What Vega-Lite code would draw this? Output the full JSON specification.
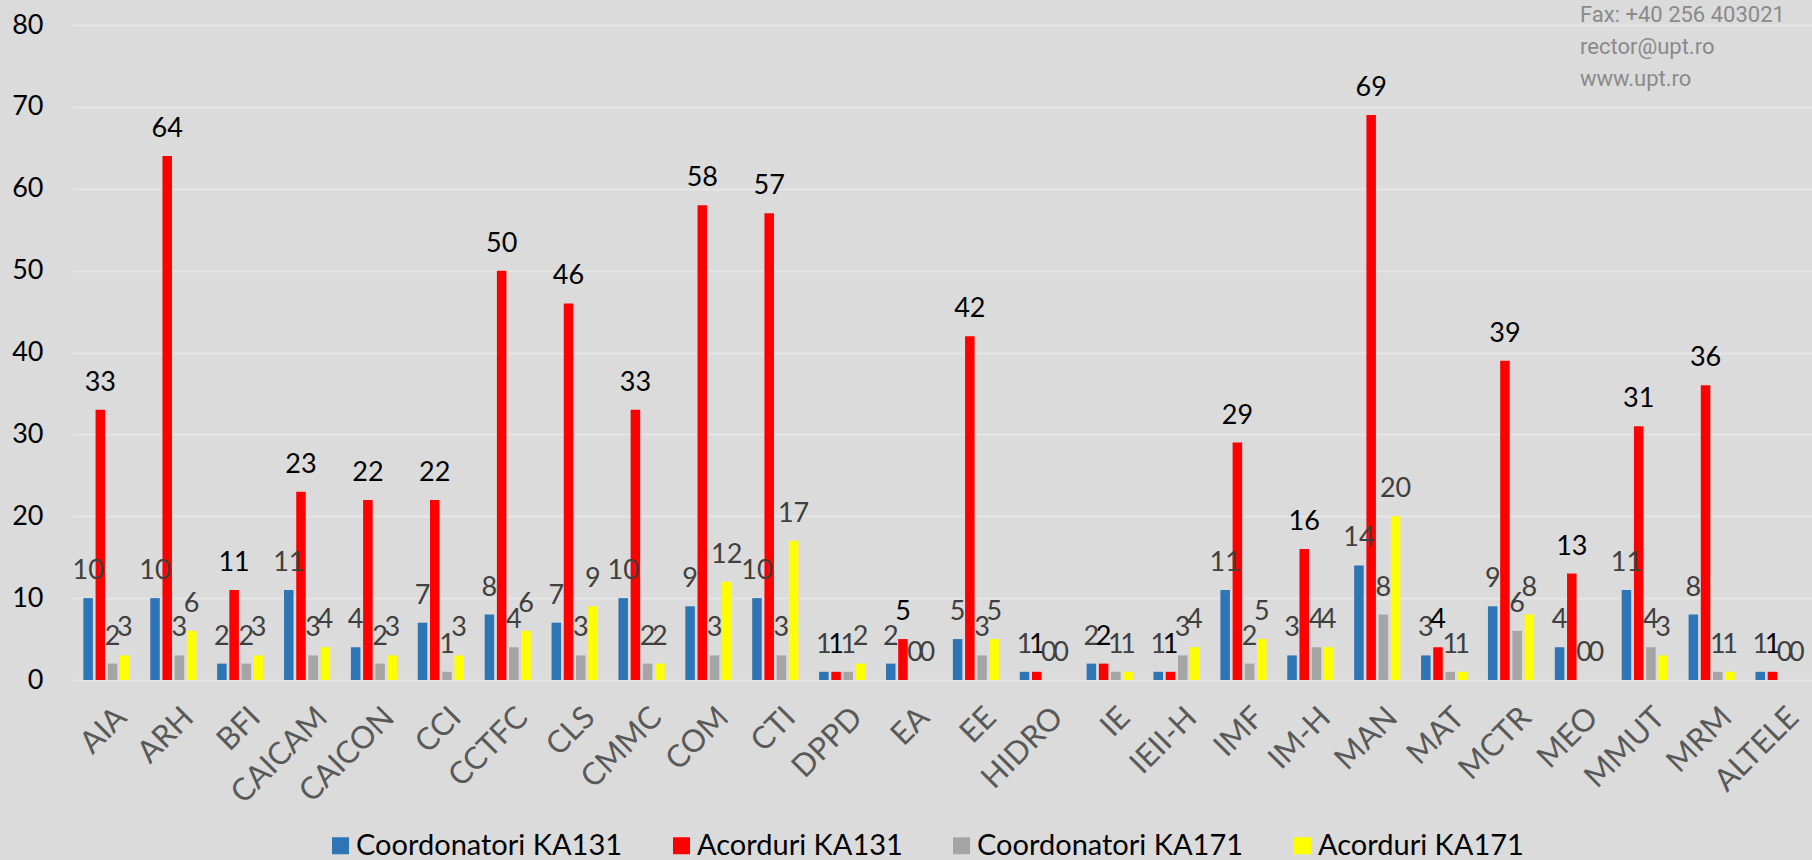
{
  "$schema": "https://vega.github.io/schema/vega-lite/v6.json",
  "width": 1739,
  "height": 655,
  "autosize": {"type": "none"},
  "padding": {"left": 73, "top": 25, "right": 0, "bottom": 180},
  "background": "#dbdbdb",
  "config": {"view": {"stroke": null}, "font": "Lato"},
  "title": {
    "text": ["Fax: +40 256 403021", "rector@upt.ro", "www.upt.ro"],
    "orient": "top",
    "anchor": "start",
    "align": "left",
    "frame": "group",
    "offset": -80,
    "dx": 1507,
    "font": "Roboto",
    "fontSize": 22,
    "fontWeight": "normal",
    "color": "#8a8a8a",
    "lineHeight": 32
  },
  "data": {
    "values": [
      {"program": "AIA", "serie": "Coordonatori KA131", "valoare": 10},
      {"program": "AIA", "serie": "Acorduri KA131", "valoare": 33},
      {"program": "AIA", "serie": "Coordonatori KA171", "valoare": 2},
      {"program": "AIA", "serie": "Acorduri KA171", "valoare": 3},
      {"program": "ARH", "serie": "Coordonatori KA131", "valoare": 10},
      {"program": "ARH", "serie": "Acorduri KA131", "valoare": 64},
      {"program": "ARH", "serie": "Coordonatori KA171", "valoare": 3},
      {"program": "ARH", "serie": "Acorduri KA171", "valoare": 6},
      {"program": "BFI", "serie": "Coordonatori KA131", "valoare": 2},
      {"program": "BFI", "serie": "Acorduri KA131", "valoare": 11},
      {"program": "BFI", "serie": "Coordonatori KA171", "valoare": 2},
      {"program": "BFI", "serie": "Acorduri KA171", "valoare": 3},
      {"program": "CAICAM", "serie": "Coordonatori KA131", "valoare": 11},
      {"program": "CAICAM", "serie": "Acorduri KA131", "valoare": 23},
      {"program": "CAICAM", "serie": "Coordonatori KA171", "valoare": 3},
      {"program": "CAICAM", "serie": "Acorduri KA171", "valoare": 4},
      {"program": "CAICON", "serie": "Coordonatori KA131", "valoare": 4},
      {"program": "CAICON", "serie": "Acorduri KA131", "valoare": 22},
      {"program": "CAICON", "serie": "Coordonatori KA171", "valoare": 2},
      {"program": "CAICON", "serie": "Acorduri KA171", "valoare": 3},
      {"program": "CCI", "serie": "Coordonatori KA131", "valoare": 7},
      {"program": "CCI", "serie": "Acorduri KA131", "valoare": 22},
      {"program": "CCI", "serie": "Coordonatori KA171", "valoare": 1},
      {"program": "CCI", "serie": "Acorduri KA171", "valoare": 3},
      {"program": "CCTFC", "serie": "Coordonatori KA131", "valoare": 8},
      {"program": "CCTFC", "serie": "Acorduri KA131", "valoare": 50},
      {"program": "CCTFC", "serie": "Coordonatori KA171", "valoare": 4},
      {"program": "CCTFC", "serie": "Acorduri KA171", "valoare": 6},
      {"program": "CLS", "serie": "Coordonatori KA131", "valoare": 7},
      {"program": "CLS", "serie": "Acorduri KA131", "valoare": 46},
      {"program": "CLS", "serie": "Coordonatori KA171", "valoare": 3},
      {"program": "CLS", "serie": "Acorduri KA171", "valoare": 9},
      {"program": "CMMC", "serie": "Coordonatori KA131", "valoare": 10},
      {"program": "CMMC", "serie": "Acorduri KA131", "valoare": 33},
      {"program": "CMMC", "serie": "Coordonatori KA171", "valoare": 2},
      {"program": "CMMC", "serie": "Acorduri KA171", "valoare": 2},
      {"program": "COM", "serie": "Coordonatori KA131", "valoare": 9},
      {"program": "COM", "serie": "Acorduri KA131", "valoare": 58},
      {"program": "COM", "serie": "Coordonatori KA171", "valoare": 3},
      {"program": "COM", "serie": "Acorduri KA171", "valoare": 12},
      {"program": "CTI", "serie": "Coordonatori KA131", "valoare": 10},
      {"program": "CTI", "serie": "Acorduri KA131", "valoare": 57},
      {"program": "CTI", "serie": "Coordonatori KA171", "valoare": 3},
      {"program": "CTI", "serie": "Acorduri KA171", "valoare": 17},
      {"program": "DPPD", "serie": "Coordonatori KA131", "valoare": 1},
      {"program": "DPPD", "serie": "Acorduri KA131", "valoare": 1},
      {"program": "DPPD", "serie": "Coordonatori KA171", "valoare": 1},
      {"program": "DPPD", "serie": "Acorduri KA171", "valoare": 2},
      {"program": "EA", "serie": "Coordonatori KA131", "valoare": 2},
      {"program": "EA", "serie": "Acorduri KA131", "valoare": 5},
      {"program": "EA", "serie": "Coordonatori KA171", "valoare": 0},
      {"program": "EA", "serie": "Acorduri KA171", "valoare": 0},
      {"program": "EE", "serie": "Coordonatori KA131", "valoare": 5},
      {"program": "EE", "serie": "Acorduri KA131", "valoare": 42},
      {"program": "EE", "serie": "Coordonatori KA171", "valoare": 3},
      {"program": "EE", "serie": "Acorduri KA171", "valoare": 5},
      {"program": "HIDRO", "serie": "Coordonatori KA131", "valoare": 1},
      {"program": "HIDRO", "serie": "Acorduri KA131", "valoare": 1},
      {"program": "HIDRO", "serie": "Coordonatori KA171", "valoare": 0},
      {"program": "HIDRO", "serie": "Acorduri KA171", "valoare": 0},
      {"program": "IE", "serie": "Coordonatori KA131", "valoare": 2},
      {"program": "IE", "serie": "Acorduri KA131", "valoare": 2},
      {"program": "IE", "serie": "Coordonatori KA171", "valoare": 1},
      {"program": "IE", "serie": "Acorduri KA171", "valoare": 1},
      {"program": "IEII-H", "serie": "Coordonatori KA131", "valoare": 1},
      {"program": "IEII-H", "serie": "Acorduri KA131", "valoare": 1},
      {"program": "IEII-H", "serie": "Coordonatori KA171", "valoare": 3},
      {"program": "IEII-H", "serie": "Acorduri KA171", "valoare": 4},
      {"program": "IMF", "serie": "Coordonatori KA131", "valoare": 11},
      {"program": "IMF", "serie": "Acorduri KA131", "valoare": 29},
      {"program": "IMF", "serie": "Coordonatori KA171", "valoare": 2},
      {"program": "IMF", "serie": "Acorduri KA171", "valoare": 5},
      {"program": "IM-H", "serie": "Coordonatori KA131", "valoare": 3},
      {"program": "IM-H", "serie": "Acorduri KA131", "valoare": 16},
      {"program": "IM-H", "serie": "Coordonatori KA171", "valoare": 4},
      {"program": "IM-H", "serie": "Acorduri KA171", "valoare": 4},
      {"program": "MAN", "serie": "Coordonatori KA131", "valoare": 14},
      {"program": "MAN", "serie": "Acorduri KA131", "valoare": 69},
      {"program": "MAN", "serie": "Coordonatori KA171", "valoare": 8},
      {"program": "MAN", "serie": "Acorduri KA171", "valoare": 20},
      {"program": "MAT", "serie": "Coordonatori KA131", "valoare": 3},
      {"program": "MAT", "serie": "Acorduri KA131", "valoare": 4},
      {"program": "MAT", "serie": "Coordonatori KA171", "valoare": 1},
      {"program": "MAT", "serie": "Acorduri KA171", "valoare": 1},
      {"program": "MCTR", "serie": "Coordonatori KA131", "valoare": 9},
      {"program": "MCTR", "serie": "Acorduri KA131", "valoare": 39},
      {"program": "MCTR", "serie": "Coordonatori KA171", "valoare": 6},
      {"program": "MCTR", "serie": "Acorduri KA171", "valoare": 8},
      {"program": "MEO", "serie": "Coordonatori KA131", "valoare": 4},
      {"program": "MEO", "serie": "Acorduri KA131", "valoare": 13},
      {"program": "MEO", "serie": "Coordonatori KA171", "valoare": 0},
      {"program": "MEO", "serie": "Acorduri KA171", "valoare": 0},
      {"program": "MMUT", "serie": "Coordonatori KA131", "valoare": 11},
      {"program": "MMUT", "serie": "Acorduri KA131", "valoare": 31},
      {"program": "MMUT", "serie": "Coordonatori KA171", "valoare": 4},
      {"program": "MMUT", "serie": "Acorduri KA171", "valoare": 3},
      {"program": "MRM", "serie": "Coordonatori KA131", "valoare": 8},
      {"program": "MRM", "serie": "Acorduri KA131", "valoare": 36},
      {"program": "MRM", "serie": "Coordonatori KA171", "valoare": 1},
      {"program": "MRM", "serie": "Acorduri KA171", "valoare": 1},
      {"program": "ALTELE", "serie": "Coordonatori KA131", "valoare": 1},
      {"program": "ALTELE", "serie": "Acorduri KA131", "valoare": 1},
      {"program": "ALTELE", "serie": "Coordonatori KA171", "valoare": 0},
      {"program": "ALTELE", "serie": "Acorduri KA171", "valoare": 0}
    ]
  },
  "encoding": {
    "x": {
      "field": "program",
      "type": "nominal",
      "sort": null,
      "title": null,
      "scale": {"paddingInner": 0.31, "paddingOuter": 0.155},
      "axis": {
        "labelAngle": -45,
        "labelColor": "#595959",
        "labelFontSize": 31,
        "labelPadding": 22,
        "labelOffset": 5,
        "labelLimit": 400,
        "ticks": false,
        "domain": false,
        "grid": false
      }
    },
    "xOffset": {
      "field": "serie",
      "type": "nominal",
      "sort": ["Coordonatori KA131", "Acorduri KA131", "Coordonatori KA171", "Acorduri KA171"],
      "scale": {"paddingInner": 0.22, "paddingOuter": 0}
    },
    "y": {
      "field": "valoare",
      "type": "quantitative",
      "title": null,
      "scale": {"domain": [0, 80], "nice": false},
      "axis": {
        "values": [0, 10, 20, 30, 40, 50, 60, 70, 80],
        "labelColor": "#000000",
        "labelFontSize": 27,
        "labelPadding": 30,
        "ticks": false,
        "domain": false,
        "gridColor": "#e6e6e6",
        "gridWidth": 2
      }
    }
  },
  "layer": [
    {
      "mark": {"type": "bar"},
      "encoding": {
        "color": {
          "field": "serie",
          "type": "nominal",
          "sort": ["Coordonatori KA131", "Acorduri KA131", "Coordonatori KA171", "Acorduri KA171"],
          "scale": {
            "domain": ["Coordonatori KA131", "Acorduri KA131", "Coordonatori KA171", "Acorduri KA171"],
            "range": ["#2E75B6", "#FF0000", "#A5A5A5", "#FFFF00"]
          },
          "legend": {
            "title": null,
            "orient": "none",
            "legendX": 253,
            "legendY": 806,
            "direction": "horizontal",
            "symbolType": "square",
            "symbolSize": 289,
            "symbolStrokeWidth": 0,
            "labelFontSize": 29,
            "labelColor": "#000000",
            "labelOffset": 1,
            "columnPadding": 44,
            "labelLimit": 400
          }
        }
      }
    },
    {
      "mark": {"type": "text", "baseline": "alphabetic", "dy": -19, "fontSize": 27},
      "encoding": {
        "text": {"field": "valoare", "type": "quantitative"},
        "color": {
          "condition": {"test": "datum.serie === 'Acorduri KA131'", "value": "#000000"},
          "value": "#404040"
        }
      }
    }
  ]
}
